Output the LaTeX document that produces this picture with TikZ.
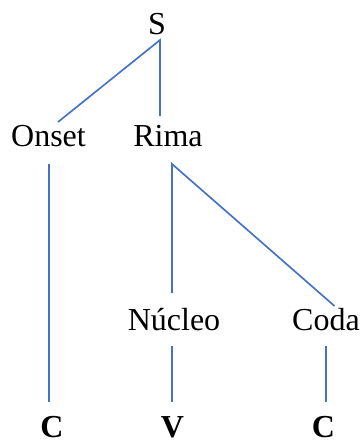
\documentclass[tikz,border=0pt]{standalone}
\usepackage{fontspec}
\setmainfont{Liberation Serif}
\definecolor{linkblue}{HTML}{4472C4}
\begin{document}
\begin{tikzpicture}[x=0.75pt,y=-0.75pt,
  lbl/.style={inner sep=0pt,anchor=base,font=\fontsize{24}{28}\selectfont},
  blbl/.style={lbl,font=\fontsize{24}{28}\selectfont\bfseries},
  seg/.style={draw=linkblue,line width=1.25pt}]
\useasboundingbox (0,0) rectangle (364,443);
\node[lbl] (S) at (157,34) {S};
\node[lbl] (On) at (48.5,146) {Onset};
\node[lbl] (Ri) at (168,146) {Rima};
\node[lbl] (Nu) at (174,330) {Núcleo};
\node[lbl] (Co) at (326,330) {Coda};
\node[blbl] (C1) at (52,437.5) {C};
\node[blbl] (V) at (172.5,437.5) {V};
\node[blbl] (C2) at (323.5,437.5) {C};
% connector ends
\coordinate (Sb) at (160,40);
\coordinate (Ont) at (58,122);
\coordinate (Rit) at (160,116);
\coordinate (Onb) at (49,164);
\coordinate (C1t) at (49,402);
\coordinate (Rib) at (172,164);
\coordinate (Nut) at (172,293);
\coordinate (Cot) at (334.5,306);
\coordinate (Nub) at (172,346);
\coordinate (Vt) at (172,402);
\coordinate (Cob) at (326,346);
\coordinate (C2t) at (326,402);
\draw[seg] (Ont) -- (Sb) -- (Rit);
\draw[seg] (Onb) -- (C1t);
\draw[seg] (Nut) -- (Rib) -- (Cot);
\draw[seg] (Nub) -- (Vt);
\draw[seg] (Cob) -- (C2t);
\end{tikzpicture}
\end{document}
